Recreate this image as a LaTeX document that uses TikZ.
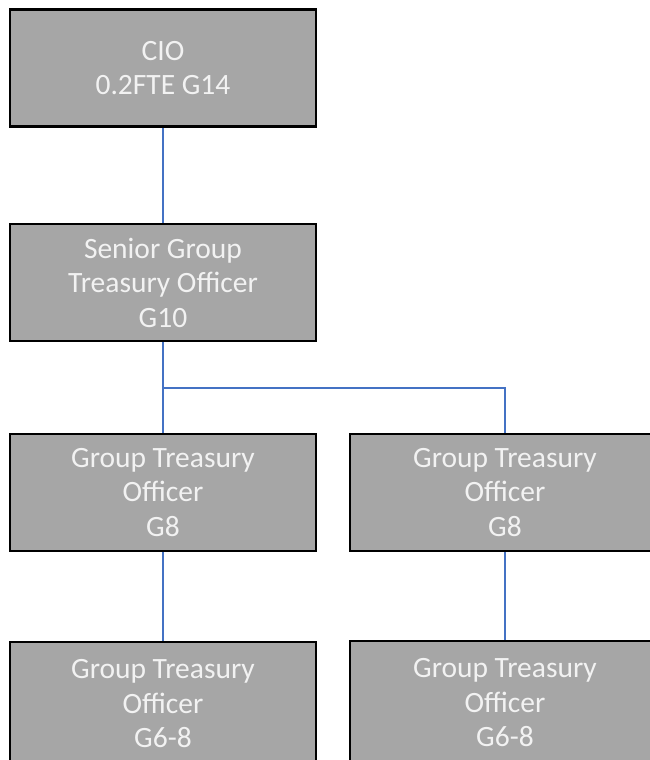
\documentclass[tikz,border=0pt]{standalone}
\usepackage{fontspec}
\setmainfont{Carlito}
\usepackage{tikz}
\usetikzlibrary{calc}
\definecolor{boxgray}{HTML}{A6A6A6}
\definecolor{linkblue}{HTML}{4472C4}
\definecolor{txtwhite}{HTML}{F2F2F2}

\begin{document}
\begin{tikzpicture}[x=1pt,y=-1pt,
    post/.style={draw=black,line width=2.6pt,fill=boxgray,text=txtwhite,
      minimum width=306pt,minimum height=117pt,inner sep=0pt,align=center,
      font=\fontsize{29.5}{34.5}\selectfont},
    wide/.style={minimum width=310pt},
    tall/.style={minimum height=124pt},
    link/.style={draw=linkblue,line width=1.1pt}]
    \useasboundingbox(0,0)rectangle(650,760);
    \clip(0,0)rectangle(650,760);
    \node[post](cio)at(163,68){CIO\\0.2FTE G14};
    \node[post](sgto)at(163,282.5){Senior Group\\Treasury Officer\\G10};
    \node[post](gtoL)at(163,492.5){Group Treasury\\Officer\\G8};
    \node[post,wide](gtoR)at(505,492.5){Group Treasury\\Officer\\G8};
    \node[post,tall](gtoLL)at(163,704){Group Treasury\\Officer\\G6-8};
    \node[post,wide,tall](gtoRR)at(505,703){Group Treasury\\Officer\\G6-8};
    \coordinate(split)at(163,388);
    \draw[link](cio)--(sgto);
    \draw[link](sgto)--(gtoL);
    \draw[link](split)-|(gtoR);
    \draw[link](gtoL)--(gtoLL);
    \draw[link](gtoR)--(gtoRR);
  \end{tikzpicture}
\end{document}
